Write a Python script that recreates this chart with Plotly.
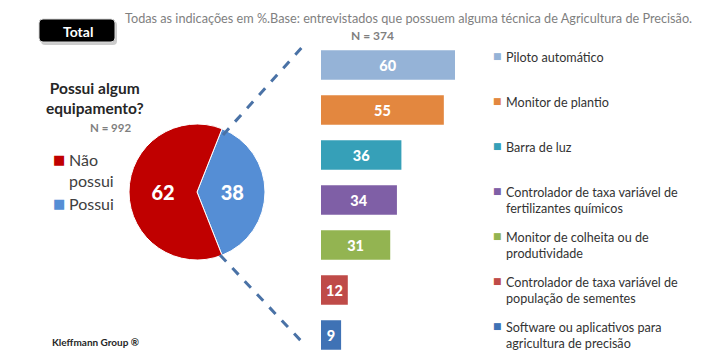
import plotly.graph_objects as go

# ---- data ----
pie_labels = ["Possui", "Não possui"]
pie_values = [38, 62]
pie_colors = ["#558ED5", "#C00000"]

bar_labels = [
    "Piloto automático",
    "Monitor de plantio",
    "Barra de luz",
    "Controlador de taxa variável de<br>fertilizantes químicos",
    "Monitor de colheita ou de<br>produtividade",
    "Controlador de taxa variável de<br>população de sementes",
    "Software ou aplicativos para<br>agricultura de precisão",
]
bar_values = [60, 55, 36, 34, 31, 12, 9]
bar_colors = ["#95B3D7", "#E3873F", "#36A0B8", "#7F5FA6", "#93B451", "#BF4B48", "#3F72B5"]

title_text = "Todas as indicações em %.Base: entrevistados que possuem alguma técnica de Agricultura de Precisão."
n_bars = "N = 374"
n_pie = "N = 992"
question = "Possui algum<br>equipamento?"

W, H = 720, 364
FONT = "Lato"

def px(x):
    return x / W

def py(y):
    return 1 - y / H

fig = go.Figure()

# pie
fig.add_trace(go.Pie(
    labels=pie_labels, values=pie_values, sort=False, direction="clockwise",
    rotation=21.6, marker=dict(colors=pie_colors, line=dict(color="white", width=1)),
    textinfo="value", textposition="inside", insidetextorientation="horizontal",
    textfont=dict(color="white", size=20, family=FONT + " Black"),
    domain=dict(x=[px(197 - 68), px(197 + 68)], y=[py(192 + 68), py(192 - 68)]),
    showlegend=False, hoverinfo="label+value",
))

# bars
idx = list(range(len(bar_values)))
fig.add_trace(go.Bar(
    x=bar_values, y=idx, orientation="h",
    marker=dict(color=bar_colors, line=dict(width=0)),
    text=[str(v) for v in bar_values], textposition="inside", insidetextanchor="middle",
    textfont=dict(color="white", size=14.5, family=FONT + " Black"),
    showlegend=False, xaxis="x", yaxis="y", width=0.66,
))

fig.update_layout(
    width=W, height=H, margin=dict(l=0, r=0, t=0, b=0),
    paper_bgcolor="white", plot_bgcolor="rgba(0,0,0,0)",
    font=dict(family=FONT, color="#404040"),
    xaxis=dict(domain=[px(321), px(455)], range=[0, 60], visible=False, fixedrange=True),
    yaxis=dict(domain=[py(357.5), py(42.5)], range=[6.5, -0.5], visible=False, fixedrange=True),
    bargap=0.34,
)

ann = []
# bar legend-like labels
for i, (lab, col) in enumerate(zip(bar_labels, bar_colors)):
    ann.append(dict(xref="paper", yref="y", x=px(504), y=i - 0.37, xanchor="left", yanchor="top",
                    text=lab, showarrow=False, align="left",
                    font=dict(size=12.6, color="#333333", family=FONT)))
    ann.append(dict(xref="paper", yref="y", x=px(497), y=i - 0.36, xanchor="center", yanchor="top",
                    text="■", showarrow=False, font=dict(size=9, color=col, family="DejaVu Sans")))

# pie legend
pie_leg = [("Não<br>possui", "#C00000", 148), ("Possui", "#558ED5", 192)]
for lab, col, yy in pie_leg:
    ann.append(dict(xref="paper", yref="paper", x=px(67), y=py(yy), xanchor="left", yanchor="top",
                    text=lab, showarrow=False, align="left",
                    font=dict(size=16, color="#404040", family=FONT)))
    ann.append(dict(xref="paper", yref="paper", x=px(59), y=py(yy + 2), xanchor="center", yanchor="top",
                    text="■", showarrow=False, font=dict(size=13, color=col, family="DejaVu Sans")))

ann += [
    dict(xref="paper", yref="paper", x=px(408), y=py(18), text=title_text, showarrow=False,
         font=dict(size=12.7, color="#7F7F7F", family=FONT), xanchor="center", yanchor="middle"),
    dict(xref="paper", yref="paper", x=px(372), y=py(35), text="<b>" + n_bars + "</b>", showarrow=False,
         font=dict(size=12, color="#7F7F7F", family=FONT), xanchor="center", yanchor="middle"),
    dict(xref="paper", yref="paper", x=px(78), y=py(31), text="<b>Total</b>", showarrow=False,
         font=dict(size=14, color="white", family=FONT), xanchor="center", yanchor="middle"),
    dict(xref="paper", yref="paper", x=px(95), y=py(98), text="<b>" + question + "</b>", showarrow=False,
         font=dict(size=15.5, color="#262626", family=FONT), xanchor="center", yanchor="middle",
         align="center"),
    dict(xref="paper", yref="paper", x=px(110), y=py(127), text="<b>" + n_pie + "</b>", showarrow=False,
         font=dict(size=11.5, color="#7F7F7F", family=FONT), xanchor="center", yanchor="middle"),
    dict(xref="paper", yref="paper", x=px(50), y=py(342), text="<b>Kleffmann Group ®</b>", showarrow=False,
         font=dict(size=10, color="#262626", family=FONT), xanchor="left", yanchor="middle"),
]
fig.update_layout(annotations=ann)

def rrect(x0, y0, x1, y1, r):
    # rounded rectangle path in paper coordinates (pixel inputs)
    X0, X1 = px(x0), px(x1)
    Y0, Y1 = py(y0), py(y1)
    rx, ry = r / W, r / H
    return (f"M {X0+rx},{Y0} L {X1-rx},{Y0} Q {X1},{Y0} {X1},{Y0-ry} "
            f"L {X1},{Y1+ry} Q {X1},{Y1} {X1-rx},{Y1} L {X0+rx},{Y1} Q {X0},{Y1} {X0},{Y1+ry} "
            f"L {X0},{Y0-ry} Q {X0},{Y0} {X0+rx},{Y0} Z")

shapes = [
    # shadow + black "Total" box
    dict(type="path", xref="paper", yref="paper", path=rrect(41, 21, 117, 45, 4),
         fillcolor="rgba(0,0,0,0.2)", line=dict(width=0), layer="below"),
    dict(type="path", xref="paper", yref="paper", path=rrect(39, 19, 115, 42, 4),
         fillcolor="black", line=dict(color="#D8D8D8", width=1), layer="below"),
    # dashed connector lines
    dict(type="line", xref="paper", yref="paper", x0=px(223), y0=py(135), x1=px(305), y1=py(44),
         line=dict(color="#4A72A6", width=3, dash="dash")),
    dict(type="line", xref="paper", yref="paper", x0=px(220), y0=py(255), x1=px(303), y1=py(343),
         line=dict(color="#4A72A6", width=3, dash="dash")),
]
fig.update_layout(shapes=shapes)

fig.write_html("out.html", config={"displayModeBar": False},
               post_script="document.body.style.margin='0';document.body.style.padding='0';")
